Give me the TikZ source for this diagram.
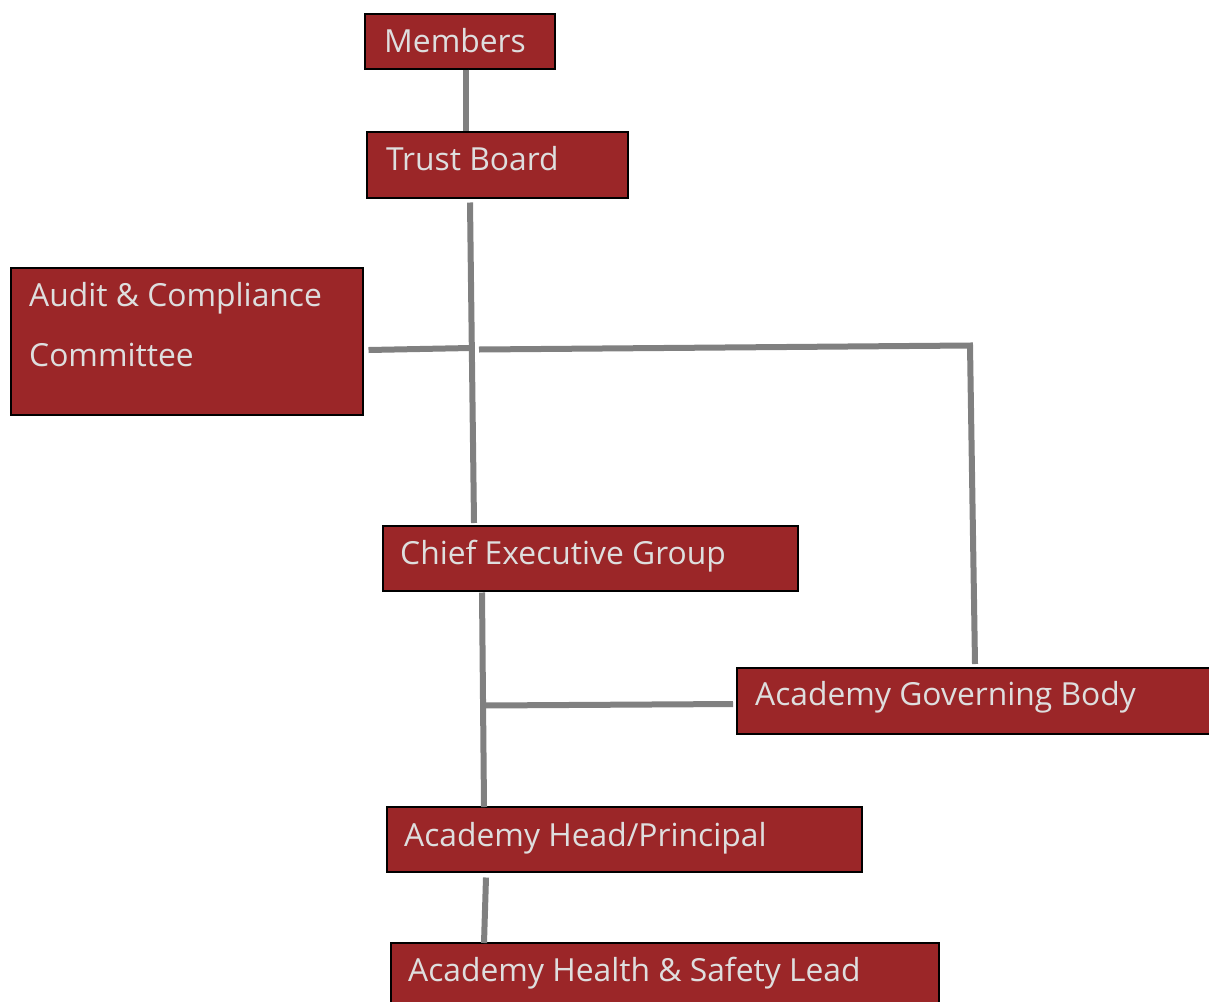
\documentclass[tikz,border=0pt]{standalone}
\usepackage{fontspec}
\setmainfont{Open Sans}
\definecolor{boxred}{HTML}{9B2628}
\definecolor{txtgrey}{HTML}{DEDEDE}
\definecolor{linegrey}{HTML}{808080}
\begin{document}
\begin{tikzpicture}[x=1pt,y=-1pt,
  orgbox/.style={draw=black,line width=1.5pt,fill=boxred,rectangle,inner sep=0pt,anchor=north west},
  lbl/.style={text=txtgrey,font=\fontsize{31.8}{36}\selectfont,inner sep=0pt,anchor=base west},
  conn/.style={draw=linegrey,line width=6pt}]
\useasboundingbox[fill=white] (0,0) rectangle (1209,1001);
% boxes
\node[orgbox,minimum width=190pt,minimum height=55pt] (mem) at (364,13) {};
\node[orgbox,minimum width=261pt,minimum height=66pt] (tb) at (366,131) {};
\node[orgbox,minimum width=352pt,minimum height=147pt] (aud) at (10,267) {};
\node[orgbox,minimum width=415pt,minimum height=65pt] (ceg) at (382,525) {};
\node[orgbox,minimum width=480pt,minimum height=66pt] (agb) at (736,667) {};
\node[orgbox,minimum width=475pt,minimum height=65pt] (head) at (386,806) {};
\node[orgbox,minimum width=548pt,minimum height=70pt] (lead) at (390,942) {};
% labels
\node[lbl] (tmem) at (384,52) {Members};
\node[lbl] (ttb) at (386,170) {Trust Board};
\node[lbl] (taud1) at (29,306) {Audit \& Compliance};
\node[lbl] (taud2) at (29,366) {Committee};
\node[lbl] (tceg) at (400,564) {Chief Executive Group};
\node[lbl] (tagb) at (755,705) {Academy Governing Body};
\node[lbl] (thead) at (404,846) {Academy Head/Principal};
\node[lbl] (tlead) at (408,981) {Academy Health \& Safety Lead};
% connectors
\draw[conn] ([shift={(102,0)}]mem.south west) -- ([shift={(100,0)}]tb.north west);
\draw[conn] ([shift={(104,4)}]tb.south west) -- ([shift={(92,-2)}]ceg.north west);
\draw[conn] ([shift={(5,83)}]aud.north east) -- ++(102,-2);
\draw[conn] ([shift={(113,151)}]tb.south west) -- ++(491,-4) -- ([shift={(239,-3)}]agb.north west);
\draw[conn] ([shift={(100,1)}]ceg.south west) -- ([shift={(98,1)}]head.north west);
\draw[conn] ([shift={(102,114)}]ceg.south west) -- ([shift={(-3,37)}]agb.north west);
\draw[conn] ([shift={(100,5)}]head.south west) -- ([shift={(94,1)}]lead.north west);
\end{tikzpicture}
\end{document}
